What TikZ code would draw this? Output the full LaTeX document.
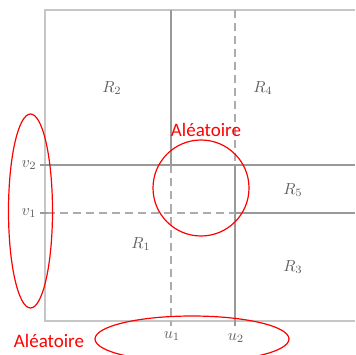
\documentclass[tikz,border=0pt]{standalone}
\usepackage{fontspec}
\newfontfamily\calib{Carlito}
\newcommand{\lbl}[1]{\scalebox{1.6}{$#1$}}
\begin{document}
\begin{tikzpicture}[x=1pt,y=-1pt,
  outer/.style={draw=gray!45,line width=1.8pt},
  solidl/.style={draw=gray!80,line width=1.8pt},
  dashl/.style={draw=gray!65,line width=1.6pt,dash pattern=on 8pt off 5pt},
  lab/.style={text=gray!75!black,inner sep=0pt},
  redring/.style={draw=red,line width=1.2pt},
  redtxt/.style={text=red,font=\calib\fontsize{19}{19}\selectfont,inner sep=0pt}]
\useasboundingbox (0,0) rectangle (355,355);
% coordinates
\coordinate (tl) at (45,10);
\coordinate (tr) at (355,10);
\coordinate (bl) at (45,321);
\coordinate (br) at (355,321);
\coordinate (a1) at (171,10);
\coordinate (a2) at (171,173);
\coordinate (a3) at (171,165);
\coordinate (a4) at (171,326);
\coordinate (b1) at (235,10);
\coordinate (b2) at (235,165);
\coordinate (b3) at (235,326);
\coordinate (c1) at (40,165);
\coordinate (c2) at (355,165);
\coordinate (d0) at (40,213);
\coordinate (d1) at (47,213);
\coordinate (d2) at (235,213);
\coordinate (d3) at (355,213);
% outer frame
\draw[outer] (tr) -- (tl) -- (bl) -- (br);
% lines
\draw[solidl] (a1) -- (a2);
\draw[dashl] (a3) -- (a4);
\draw[dashl] (b1) -- (b2);
\draw[solidl] (b2) -- (b3);
\draw[solidl] (c1) -- (c2);
\draw[solidl,line width=1.2pt] (d0) -- (d1);
\draw[dashl] (d1) -- (d2);
\draw[solidl] (d2) -- (d3);
% labels
\node[lab] (R2) at (112,88) {\lbl{R_2}};
\node[lab] (R4) at (263,88) {\lbl{R_4}};
\node[lab] (R5) at (293,190) {\lbl{R_5}};
\node[lab] (R1) at (141,244) {\lbl{R_1}};
\node[lab] (R3) at (293,267) {\lbl{R_3}};
\node[lab] (v2) at (29,165) {\lbl{v_2}};
\node[lab] (v1) at (29,213) {\lbl{v_1}};
\node[lab] (u1) at (172,336) {\lbl{u_1}};
\node[lab] (u2) at (236,338) {\lbl{u_2}};
% red annotations
\draw[redring] (30.5,211) ellipse [x radius=22, y radius=97];
\draw[redring] (201,188) circle [radius=48];
\draw[redring] (192,339) ellipse [x radius=97, y radius=23];
\node[redtxt] (t1) at (206,130) {Aléatoire};
\node[redtxt] (t2) at (49,341) {Aléatoire};
\end{tikzpicture}
\end{document}
